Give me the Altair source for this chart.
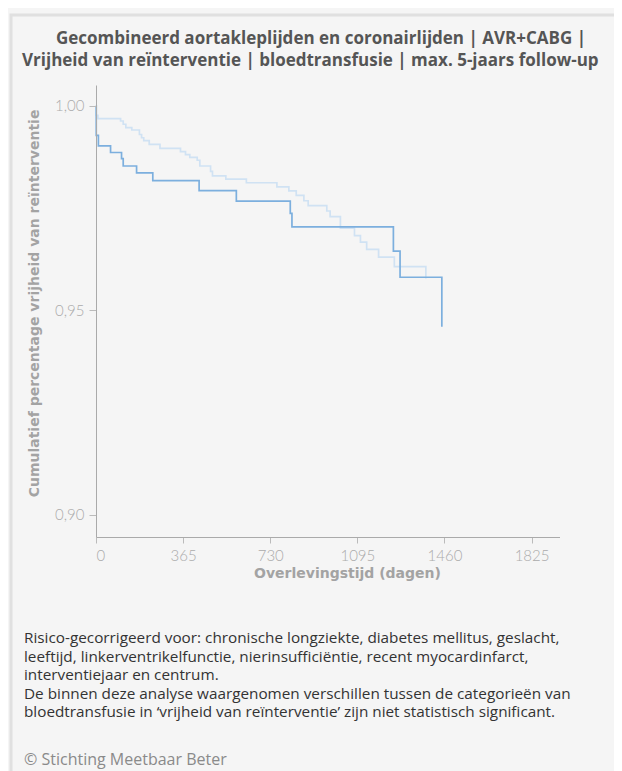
import altair as alt
import pandas as pd

# --- data ---
dark_days = [0, 1, 10, 61, 107, 114, 170, 238, 432, 588, 814, 821, 1246, 1274, 1449]
dark_vals = [1.000, 0.9928, 0.9902, 0.9886, 0.9871, 0.9853, 0.9836, 0.9817, 0.9793,
             0.9767, 0.9737, 0.9704, 0.9645, 0.9581, 0.9460]

light_days = [0, 1, 8, 103, 114, 125, 150, 182, 191, 200, 223, 268, 354, 375, 393, 424,
              435, 480, 488, 544, 630, 758, 808, 839, 871, 889, 967, 981, 1024, 1083,
              1108, 1134, 1184, 1250, 1382]
light_vals = [1.000, 0.9977, 0.9969, 0.9963, 0.9955, 0.9947, 0.9941, 0.9930, 0.9922,
              0.9915, 0.9906, 0.9896, 0.9888, 0.9881, 0.9874, 0.9867, 0.9853, 0.9840,
              0.9829, 0.9821, 0.9812, 0.9802, 0.9792, 0.9781, 0.9768, 0.9756, 0.9743,
              0.9729, 0.9701, 0.9683, 0.9667, 0.9649, 0.9630, 0.9607, 0.9578]

x_ticks = [0, 365, 730, 1095, 1460, 1825]
y_ticks = [0.90, 0.95, 1.00]

title_line1 = "Gecombineerd aortakleplijden en coronairlijden | AVR+CABG |"
title_line2 = "Vrijheid van reïnterventie | bloedtransfusie | max. 5-jaars follow-up"
footnote_lines = [
    "Risico-gecorrigeerd voor: chronische longziekte, diabetes mellitus, geslacht,",
    "leeftijd, linkerventrikelfunctie, nierinsufficiëntie, recent myocardinfarct,",
    "interventiejaar en centrum.",
    "De binnen deze analyse waargenomen verschillen tussen de categorieën van",
    "bloedtransfusie in ‘vrijheid van  reïnterventie’ zijn niet statistisch significant.",
]
copyright_text = "© Stichting Meetbaar Beter"

df = pd.concat([
    pd.DataFrame({"dagen": light_days, "vrijheid": light_vals, "groep": "geen bloedtransfusie", "ord": 0}),
    pd.DataFrame({"dagen": dark_days, "vrijheid": dark_vals, "groep": "bloedtransfusie", "ord": 1}),
])

one = pd.DataFrame({"k": [0]})

W, H = 463.5, 452

x_enc = alt.X("dagen:Q",
              scale=alt.Scale(domain=[0, 1942], nice=False, zero=False),
              axis=alt.Axis(values=x_ticks, format="d", title="Overlevingstijd (dagen)",
                            titleX=251, titleY=36, titleBaseline="middle",
                            titleAlign="center", labelPadding=5, tickSize=6,
                            zindex=1))
y_enc = alt.Y("vrijheid:Q",
              scale=alt.Scale(domain=[0.8946, 1.0051], nice=False, zero=False),
              axis=alt.Axis(values=y_ticks,
                            labelExpr="replace(format(datum.value, '.2f'), '.', ',')",
                            title="Cumulatief percentage vrijheid van reïnterventie",
                            titleX=-62, titleY=218, titleAngle=270,
                            titleAlign="center", titleBaseline="middle",
                            labelPadding=5, tickSize=7, zindex=1))

frame = alt.Chart(one).mark_rect(filled=False, stroke="#e0e0e0", strokeWidth=3).encode(
    x=alt.value(-85), x2=alt.value(700), y=alt.value(-70), y2=alt.value(900))

lines = alt.Chart(df).mark_line(interpolate="step-after", strokeWidth=1.7).encode(
    x=x_enc, y=y_enc,
    color=alt.Color("groep:N",
                    scale=alt.Scale(domain=["geen bloedtransfusie", "bloedtransfusie"],
                                    range=["#d0e2f3", "#7cafde"]),
                    legend=None),
    order=alt.Order("ord:Q"),
    detail="groep:N",
)

t1 = alt.Chart(one).mark_text(font="Open Sans", fontWeight="bold", fontSize=17,
                              color="#555555", align="center", baseline="middle").encode(
    x=alt.value(225), y=alt.value(-46), text=alt.value(title_line1))
t2 = alt.Chart(one).mark_text(font="Open Sans", fontWeight="bold", fontSize=17,
                              color="#555555", align="left", baseline="middle").encode(
    x=alt.value(-74), y=alt.value(-24), text=alt.value(title_line2))

foot = alt.Chart(one).mark_text(font="Open Sans", fontSize=15.3, color="#333333",
                                align="left", baseline="middle", lineHeight=18.6).encode(
    x=alt.value(-72), y=alt.value(553), text=alt.value(footnote_lines))

copy = alt.Chart(one).mark_text(font="Open Sans", fontSize=16, color="#8a8a8a",
                                align="left", baseline="middle").encode(
    x=alt.value(-72), y=alt.value(675), text=alt.value(copyright_text))

chart = alt.layer(lines, frame, t1, t2, foot, copy).properties(
    width=W, height=H,
    autosize=alt.AutoSizeParams(type="none"),
    padding={"left": 88, "top": 77, "right": 54.5, "bottom": 234},
    background="#f5f5f5",
).configure_view(stroke=None).configure_axis(
    grid=False,
    domainColor="#aaaaaa", tickColor="#bbbbbb",
    labelColor="#ababab", labelFont="Lato", labelFontSize=15, labelFontWeight=300,
    titleColor="#a3a3a3", titleFont="DejaVu Sans", titleFontSize=14, titleFontWeight="bold",
)

chart.save("out.html", embed_options={"renderer": "svg", "actions": False})
